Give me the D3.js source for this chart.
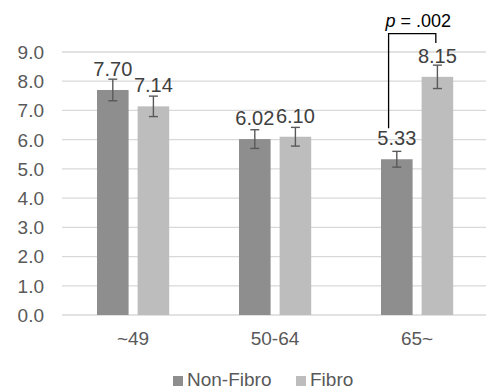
<!DOCTYPE html>
<html>
<head>
<meta charset="utf-8">
<script src="https://cdnjs.cloudflare.com/ajax/libs/d3/7.8.5/d3.min.js"></script>
<style>
  body { margin: 0; background: #fff; }
  text { font-family: "Liberation Sans", Arial, sans-serif; }
</style>
</head>
<body>
<div id="chart"></div>
<script>
// data
var groups = ["~49", "50-64", "65~"];
var seriesNames = ["Non-Fibro", "Fibro"];
var nonFibro = [7.70, 6.02, 5.33];
var fibro = [7.14, 6.10, 8.15];
var nonFibroErr = [0.37, 0.32, 0.27];
var fibroErr = [0.35, 0.32, 0.40];
var yTicks = [0, 1, 2, 3, 4, 5, 6, 7, 8, 9];
var pLabel = ".002";

var colors = { "Non-Fibro": "#8e8e8e", "Fibro": "#bdbdbd" };

var width = 486, height = 389;
var margin = {top: 52, right: -2, bottom: 74, left: 62};
var innerW = width - margin.left - margin.right,
    innerH = height - margin.top - margin.bottom;

var svg = d3.select("#chart").append("svg")
    .attr("width", width)
    .attr("height", height);

var g = svg.append("g")
    .attr("transform", "translate(" + margin.left + "," + margin.top + ")");

// scales
var x0 = d3.scaleBand().domain(groups).range([0, innerW]);
var bw = x0.bandwidth();
var x1 = d3.scaleBand().domain(seriesNames)
    .range([bw * 0.2465, bw * 0.7549])
    .paddingInner(0.222);
var y = d3.scaleLinear().domain([0, 9]).range([innerH, 0]);

// gridlines
g.selectAll(".grid").data(yTicks).enter().append("line")
    .attr("x1", 0).attr("x2", innerW)
    .attr("y1", function(d) { return y(d); })
    .attr("y2", function(d) { return y(d); })
    .attr("stroke", "#d9d9d9")
    .attr("stroke-width", 1.3);

// y labels
g.selectAll(".ylab").data(yTicks).enter().append("text")
    .attr("x", -18)
    .attr("y", function(d) { return y(d); })
    .attr("dy", "0.36em")
    .attr("text-anchor", "end")
    .attr("fill", "#595959")
    .style("font-size", "19px")
    .text(function(d) { return d.toFixed(1); });

// build rows
var rows = [];
groups.forEach(function(grp, i) {
  rows.push({group: grp, key: "Non-Fibro", value: nonFibro[i], err: nonFibroErr[i]});
  rows.push({group: grp, key: "Fibro", value: fibro[i], err: fibroErr[i]});
});

function cx(d) { return x0(d.group) + x1(d.key) + x1.bandwidth() / 2; }

// bars
g.selectAll(".bar").data(rows).enter().append("rect")
    .attr("x", function(d) { return x0(d.group) + x1(d.key); })
    .attr("y", function(d) { return y(d.value); })
    .attr("width", x1.bandwidth())
    .attr("height", function(d) { return innerH - y(d.value); })
    .attr("fill", function(d) { return colors[d.key]; });

// error bars
var eb = g.selectAll(".err").data(rows).enter().append("g")
    .attr("stroke", "#595959")
    .attr("stroke-width", 1.4);
eb.append("line")
    .attr("x1", cx).attr("x2", cx)
    .attr("y1", function(d) { return y(d.value + d.err); })
    .attr("y2", function(d) { return y(d.value - d.err); });
eb.append("line")
    .attr("x1", function(d) { return cx(d) - 4.5; })
    .attr("x2", function(d) { return cx(d) + 4.5; })
    .attr("y1", function(d) { return y(d.value + d.err); })
    .attr("y2", function(d) { return y(d.value + d.err); });
eb.append("line")
    .attr("x1", function(d) { return cx(d) - 4.5; })
    .attr("x2", function(d) { return cx(d) + 4.5; })
    .attr("y1", function(d) { return y(d.value - d.err); })
    .attr("y2", function(d) { return y(d.value - d.err); });

// value labels
g.selectAll(".vlab").data(rows).enter().append("text")
    .attr("x", cx)
    .attr("y", function(d) { return y(d.value) - 14; })
    .attr("text-anchor", "middle")
    .attr("fill", "#404040")
    .style("font-size", "20px")
    .text(function(d) { return d.value.toFixed(2); });

// x labels
g.selectAll(".xlab").data(groups).enter().append("text")
    .attr("x", function(d) { return x0(d) + bw / 2; })
    .attr("y", innerH + 30)
    .attr("text-anchor", "middle")
    .attr("fill", "#595959")
    .style("font-size", "19px")
    .text(function(d) { return d; });

// significance bracket
var gl = groups[2];
var bx1 = x0(gl) + x1("Non-Fibro") + x1.bandwidth() * 0.24;
var bx2 = x0(gl) + x1("Fibro") + x1.bandwidth() * 0.45;
var bracket = d3.path();
bracket.moveTo(bx1, y(6.39));
bracket.lineTo(bx1, y(9.63));
bracket.lineTo(bx2, y(9.63));
bracket.lineTo(bx2, y(9.31));
g.append("path")
    .attr("d", bracket.toString())
    .attr("fill", "none")
    .attr("stroke", "#000")
    .attr("stroke-width", 1.3);

var pt = g.append("text")
    .attr("x", (bx1 + bx2) / 2 + 6)
    .attr("y", y(9.63) - 7)
    .attr("text-anchor", "middle")
    .attr("fill", "#000")
    .style("font-size", "18px");
pt.append("tspan").style("font-style", "italic").text("p");
pt.append("tspan").text(" = " + pLabel);

// legend
var legend = svg.append("g").attr("transform", "translate(0,386)");
var legX = [173, 296];
seriesNames.forEach(function(s, i) {
  legend.append("rect")
      .attr("x", legX[i]).attr("y", -10)
      .attr("width", 10).attr("height", 10)
      .attr("fill", colors[s]);
  legend.append("text")
      .attr("x", legX[i] + 14).attr("y", 0)
      .attr("fill", "#595959")
      .style("font-size", "19px")
      .text(s);
});
</script>
</body>
</html>
